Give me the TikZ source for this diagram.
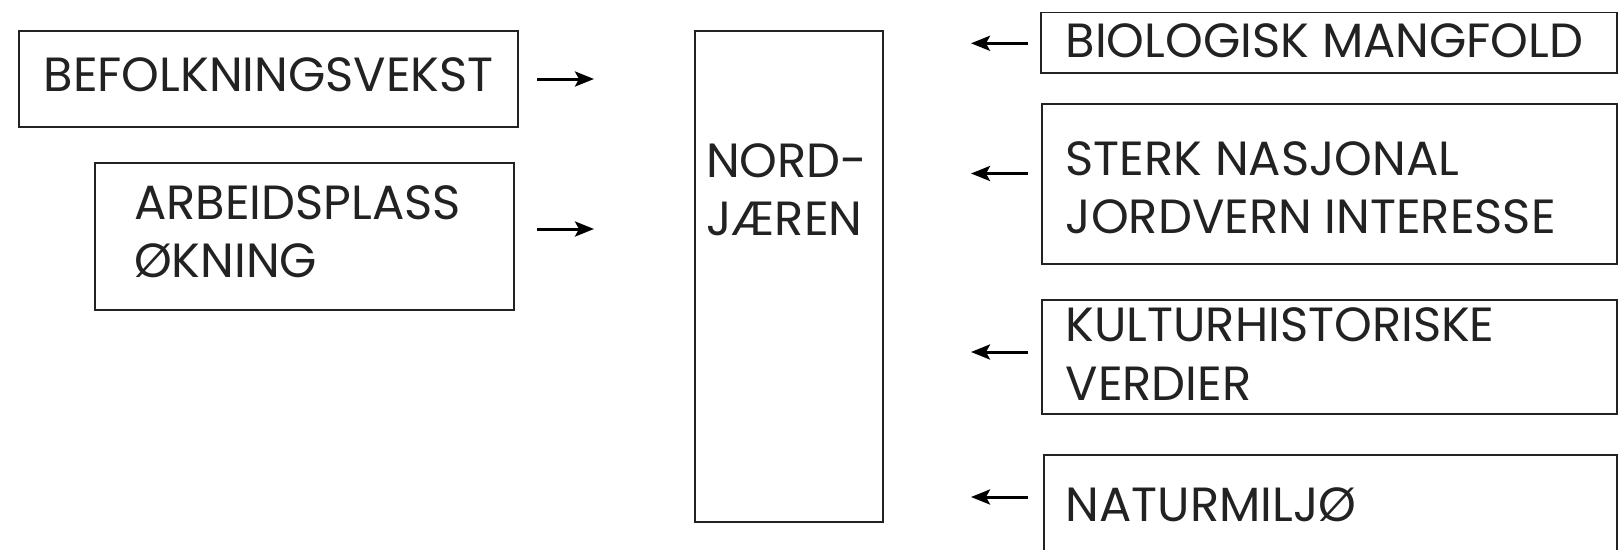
\documentclass[tikz,border=0pt]{standalone}
\usepackage{fontspec}
\setmainfont{Poppins}
\usetikzlibrary{arrows.meta}
\definecolor{ink}{HTML}{222222}
\begin{document}
\begin{tikzpicture}[x=1pt,y=-1pt,
  box/.style={draw=ink,line width=1.8pt},
  lbl/.style={anchor=base west,inner sep=0pt,text=ink,font=\fontsize{48}{58}\selectfont},
  arr/.style={draw=black,line width=3pt,-{Stealth[length=19pt,width=15pt,inset=4pt]}}]
\useasboundingbox (0,0) rectangle (1619,549);
% boxes
\draw[box] (18.6,31) rectangle (518.3,127);
\draw[box] (95,163) rectangle (514,310);
\draw[box] (695,31) rectangle (883,522);
\draw[box] (1041,12.4) rectangle (1617,73.3);
\draw[box] (1042,104) rectangle (1617,264);
\draw[box] (1042,300) rectangle (1617,414);
\draw[box] (1044,455) rectangle (1617,560);
% texts
\node[lbl] (tA) at (43.4,91) {BEFOLKNINGSVEKST};
\node[lbl] (tB1) at (134,219) {ARBEIDSPLASS};
\node[lbl] (tB2) at (134,277) {ØKNING};
\node[lbl] (tC1) at (706,177.6) {NORD-};
\node[lbl] (tC2) at (706,235.4) {JÆREN};
\node[lbl] (tR1) at (1065.5,57) {BIOLOGISK MANGFOLD};
\node[lbl] (tR2a) at (1065.5,175.5) {STERK NASJONAL};
\node[lbl] (tR2b) at (1065.5,233.3) {JORDVERN INTERESSE};
\node[lbl] (tR3a) at (1065.5,341.8) {KULTURHISTORISKE};
\node[lbl] (tR3b) at (1065.5,400.6) {VERDIER};
\node[lbl] (tR4) at (1065.5,521.4) {NATURMILJØ};
% arrows
\coordinate (a1s) at (537,79); \coordinate (a1e) at (594,79);
\coordinate (a2s) at (537,229); \coordinate (a2e) at (594,229);
\coordinate (b1s) at (1028,43.3); \coordinate (b1e) at (971,43.3);
\coordinate (b2s) at (1028,173.5); \coordinate (b2e) at (971,173.5);
\coordinate (b3s) at (1028,352); \coordinate (b3e) at (971,352);
\coordinate (b4s) at (1028,497); \coordinate (b4e) at (971,497);
\draw[arr] (a1s) -- (a1e);
\draw[arr] (a2s) -- (a2e);
\draw[arr] (b1s) -- (b1e);
\draw[arr] (b2s) -- (b2e);
\draw[arr] (b3s) -- (b3e);
\draw[arr] (b4s) -- (b4e);
\end{tikzpicture}
\end{document}
